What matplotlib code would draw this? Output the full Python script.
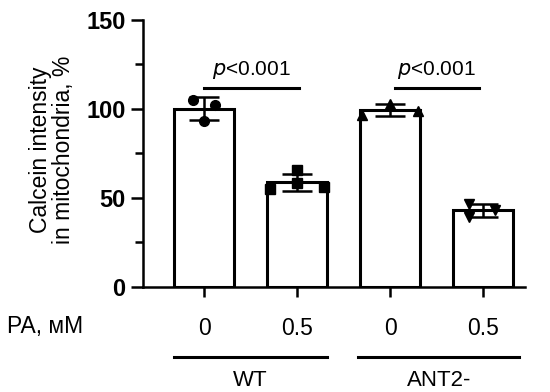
import numpy as np
import matplotlib.pyplot as plt
from matplotlib.transforms import blended_transform_factory

plt.rcParams['font.family'] = ['Liberation Sans', 'DejaVu Sans']

# data
dose_labels = ['0', '0.5', '0', '0.5']
groups = ['WT', 'ANT2-']
wt_0 = [105, 102.5, 93]
wt_05 = [65.5, 58.5, 55, 56]
ant_0 = [103, 96.5, 99]
ant_05 = [46.5, 43, 39.5]
series = [wt_0, wt_05, ant_0, ant_05]
markers = ['o', 's', '^', 'v']
# horizontal spread of the dots inside each bar
spread = [[-0.12, 0.12, 0.0], [0.0, 0.0, -0.29, 0.29], [0.0, -0.3, 0.3], [-0.15, 0.12, -0.15]]

fig = plt.figure(figsize=(5.5, 3.92), dpi=100)
ax = fig.add_axes([0.26, 0.268, 0.695, 0.681])

x = np.arange(len(series))
means = [np.mean(v) for v in series]
sds = [np.std(v, ddof=1) for v in series]

ax.bar(x, means, width=0.645, color='white', edgecolor='black', linewidth=2.2, zorder=1)
for i, vals in enumerate(series):
    ax.plot(x[i] + np.array(spread[i]), vals, linestyle='none', marker=markers[i],
            color='black', markersize=7, zorder=3)
ax.errorbar(x, means, yerr=sds, fmt='none', ecolor='black', elinewidth=1.8,
            capsize=10.5, capthick=1.8, zorder=4)

# significance bars
for x0, x1 in [(0, 1.02), (2.05, 2.95)]:
    ax.plot([x0, x1], [112, 112], color='black', lw=2.2, clip_on=False)
    ax.text((x0 + x1) / 2, 115.5, r'$\it{p}$<0.001', ha='center', va='bottom', fontsize=15)

ax.set_xlim(-0.656, 3.45)
ax.set_ylim(0, 150)
ax.set_yticks([0, 50, 100, 150])
ax.set_yticks([25, 75, 125], minor=True)
ax.tick_params(axis='y', which='major', length=9, width=1.8, labelsize=17)
ax.tick_params(axis='y', which='minor', length=6, width=1.8)
for lab in ax.get_yticklabels():
    lab.set_fontweight('bold')
ax.set_xticks(x)
ax.set_xticklabels(dose_labels, fontsize=16.5)
ax.tick_params(axis='x', length=7, width=1.8, pad=15)

for s in ['top', 'right']:
    ax.spines[s].set_visible(False)
for s in ['left', 'bottom']:
    ax.spines[s].set_linewidth(1.8)

ax.set_ylabel('Calcein intensity\nin mitochondria, %', fontsize=16.5, linespacing=1.05)
ax.yaxis.label.set_verticalalignment('center')
ax.yaxis.set_label_coords(-0.238, 0.513)

# group lines under the axis
trans = blended_transform_factory(ax.transData, ax.transAxes)
for g, (c, hw) in zip(groups, [(0.5, 0.82), (2.52, 0.865)]):
    ax.plot([c - hw, c + hw], [-0.262, -0.262], color='black', lw=2.2,
            transform=trans, clip_on=False)
    ax.text(c, -0.352, g, transform=trans, ha='center', va='center', fontsize=16)

fig.text(0.013, 1 - 327 / 392, 'PA, мМ', ha='left', va='center', fontsize=16.5)

fig.savefig('out.png', dpi=100)
